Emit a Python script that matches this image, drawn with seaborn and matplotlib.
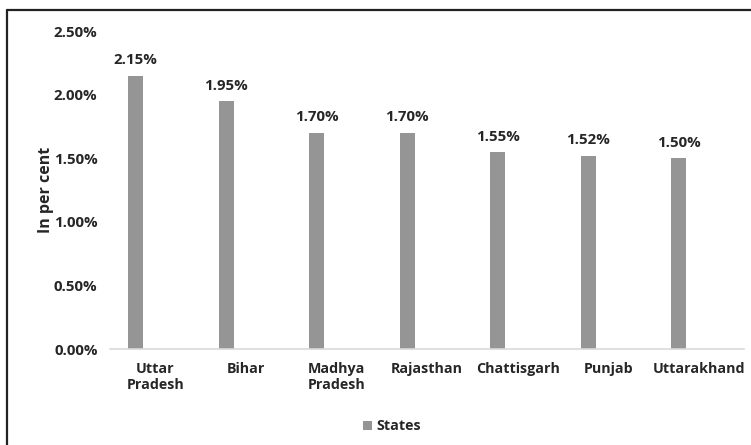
import matplotlib
matplotlib.use("Agg")
import matplotlib.pyplot as plt
from matplotlib.lines import Line2D
from matplotlib.ticker import FuncFormatter, MultipleLocator
import pandas as pd
import seaborn as sns

states = ["Uttar\nPradesh", "Bihar", "Madhya\nPradesh", "Rajasthan",
          "Chattisgarh", "Punjab", "Uttarakhand"]
share = [2.15, 1.95, 1.70, 1.70, 1.55, 1.52, 1.50]
series_name = "States"
# Companion series of the clustered layout; carries no values
spare_name = "_spare"

sns.set_theme(style="white")
plt.rcParams["font.family"] = ["Open Sans", "DejaVu Sans"]
plt.rcParams["font.weight"] = "bold"

df = pd.DataFrame({
    "state": states + states,
    "value": share + [0.0] * len(share),
    "series": [series_name] * len(states) + [spare_name] * len(states),
})

fig = plt.figure(figsize=(7.51, 4.45), dpi=100)
ax = fig.add_axes([0.1465, 0.2157, 0.8442, 0.7146])

bar_color = "#959595"
text_color = "#262626"

sns.barplot(data=df, x="state", y="value", hue="series",
            hue_order=[series_name, spare_name],
            palette={series_name: bar_color, spare_name: (1, 1, 1, 0)},
            width=0.876, gap=0.62, linewidth=0, legend=False, ax=ax)

ax.set_ylim(0, 2.5)
ax.yaxis.set_major_locator(MultipleLocator(0.5))
ax.yaxis.set_major_formatter(FuncFormatter(lambda v, _: f"{v:.2f}%"))
ax.set_xlabel("")
ax.set_ylabel("In per cent", fontsize=11.5, fontweight="bold", color=text_color, labelpad=0)
ax.tick_params(axis="both", length=0, labelcolor=text_color)
ax.tick_params(axis="x", pad=9, labelsize=10.3)
ax.tick_params(axis="y", pad=9, labelsize=10.8)
for lbl in ax.get_xticklabels() + ax.get_yticklabels():
    lbl.set_fontweight("bold")
for lbl in ax.get_xticklabels():
    lbl.set_linespacing(1.25)

for side in ["top", "right", "left"]:
    ax.spines[side].set_visible(False)
ax.spines["bottom"].set_color("#d9d9d9")
ax.spines["bottom"].set_linewidth(1.2)

bars = ax.containers[0]
ax.bar_label(bars, labels=[f"{v:.2f}%" for v in share], padding=6,
             fontsize=10.8, fontweight="bold", color=text_color)

ax.legend(handles=[bars.patches[0]], labels=[series_name], loc="upper center",
          bbox_to_anchor=(0.445, -0.18), frameon=False,
          handlelength=0.6, handleheight=0.6, handletextpad=0.35,
          prop={"weight": "bold", "size": 10.3})
for t in ax.get_legend().get_texts():
    t.set_color(text_color)

# Chart frame edges
fig.add_artist(Line2D([7 / 751, 1], [1 - 10 / 445, 1 - 10 / 445],
                      transform=fig.transFigure, color="#222222", lw=1.6))
fig.add_artist(Line2D([7 / 751, 7 / 751], [0, 1 - 10 / 445],
                      transform=fig.transFigure, color="#222222", lw=1.6))

fig.savefig("out.png", dpi=100, facecolor="white")
